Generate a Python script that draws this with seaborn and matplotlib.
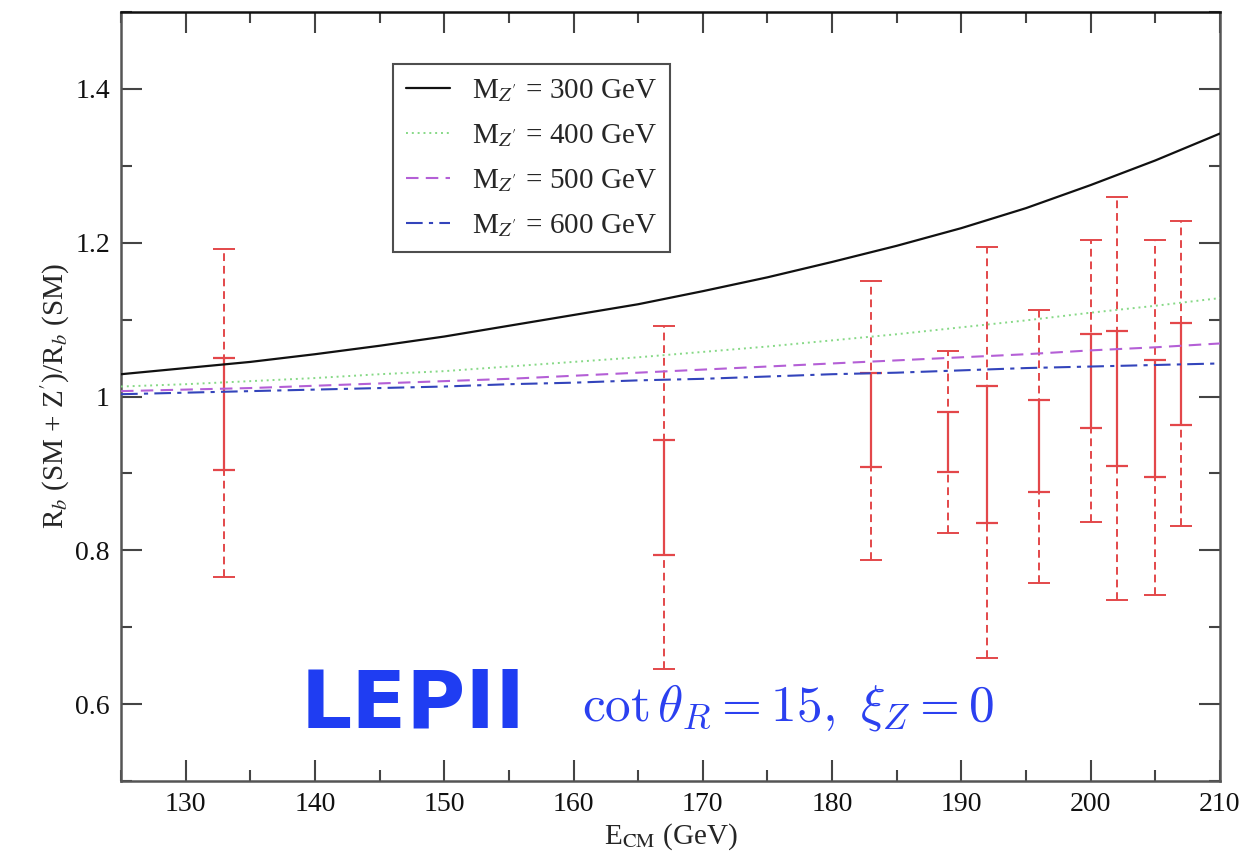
import numpy as np
import pandas as pd
import matplotlib
matplotlib.use("Agg")
import matplotlib.pyplot as plt
from matplotlib.ticker import MultipleLocator, FixedLocator
import seaborn as sns

# ---- data ----
energy = [125, 130, 135, 140, 145, 150, 155, 160, 165, 170, 175, 180, 185, 190, 195, 200, 205, 210]
r_m300 = [1.029, 1.037, 1.045, 1.055, 1.066, 1.078, 1.092, 1.106, 1.120, 1.137, 1.155, 1.175,
          1.196, 1.219, 1.245, 1.275, 1.307, 1.342]
r_m400 = [1.013, 1.016, 1.020, 1.024, 1.029, 1.033, 1.039, 1.045, 1.051, 1.058, 1.065, 1.073,
          1.081, 1.090, 1.099, 1.109, 1.118, 1.128]
r_m500 = [1.007, 1.009, 1.011, 1.014, 1.017, 1.020, 1.023, 1.027, 1.031, 1.035, 1.039, 1.043,
          1.047, 1.051, 1.055, 1.060, 1.064, 1.069]
r_m600 = [1.003, 1.005, 1.007, 1.009, 1.011, 1.013, 1.016, 1.018, 1.021, 1.023, 1.026, 1.029,
          1.031, 1.034, 1.037, 1.039, 1.041, 1.043]
series_labels = [r"M$_{Z'}$ = 300 GeV", r"M$_{Z'}$ = 400 GeV",
                 r"M$_{Z'}$ = 500 GeV", r"M$_{Z'}$ = 600 GeV"]

bar_energy = [133, 167, 183, 189, 192, 196, 200, 202, 205, 207]
inner_low = [0.905, 0.794, 0.908, 0.902, 0.836, 0.876, 0.959, 0.910, 0.895, 0.963]
inner_high = [1.050, 0.943, 1.030, 0.980, 1.014, 0.995, 1.081, 1.085, 1.048, 1.096]
outer_low = [0.765, 0.646, 0.788, 0.822, 0.660, 0.757, 0.837, 0.736, 0.742, 0.831]
outer_high = [1.192, 1.092, 1.150, 1.059, 1.194, 1.112, 1.203, 1.260, 1.203, 1.228]

x_ticks = [130, 140, 150, 160, 170, 180, 190, 200, 210]
y_ticks = [0.6, 0.8, 1.0, 1.2, 1.4]
y_ticklabels = ["0.6", "0.8", "1", "1.2", "1.4"]

# ---- style ----
sns.set_theme(style="ticks")
plt.rcParams["font.family"] = ["Liberation Serif", "DejaVu Serif"]
plt.rcParams["mathtext.fontset"] = "stix"

fig = plt.figure(figsize=(12.45, 8.59), dpi=100)
ax = fig.add_axes([0.0972, 0.0908, 0.8827, 0.8952])

red = "#e3474a"
# error bars: outer (dashed) then inner (solid)
outer_c = [(l + h) / 2 for l, h in zip(outer_low, outer_high)]
inner_c = [(l + h) / 2 for l, h in zip(inner_low, inner_high)]
eb_o = ax.errorbar(bar_energy, outer_c,
                   yerr=[[c - l for c, l in zip(outer_c, outer_low)],
                         [h - c for c, h in zip(outer_c, outer_high)]],
                   fmt="none", ecolor=red, elinewidth=1.4, capsize=8, capthick=1.4, zorder=2)
eb_o[2][0].set_linestyle((0, (4, 2.5)))
ax.errorbar(bar_energy, inner_c,
            yerr=[[c - l for c, l in zip(inner_c, inner_low)],
                  [h - c for c, h in zip(inner_c, inner_high)]],
            fmt="none", ecolor=red, elinewidth=1.6, capsize=8, capthick=1.6, zorder=3)

series = [r_m300, r_m400, r_m500, r_m600]
colors = ["#111111", "#86d986", "#b45fd6", "#3344bb"]
styles = ["-", (0, (1, 2)), (0, (6, 3.5)), (0, (8, 3, 2, 3))]
widths = [1.6, 1.4, 1.5, 1.5]
for vals, lab, c, ls, lw in zip(series, series_labels, colors, styles, widths):
    sns.lineplot(x=energy, y=vals, ax=ax, color=c, linestyle=ls, linewidth=lw, label=lab, zorder=4)

ax.set_xlim(125, 210)
ax.set_ylim(0.5, 1.5)
ax.xaxis.set_major_locator(FixedLocator(x_ticks))
ax.xaxis.set_minor_locator(MultipleLocator(5))
ax.yaxis.set_major_locator(FixedLocator(y_ticks))
ax.set_yticklabels(y_ticklabels)
ax.yaxis.set_minor_locator(MultipleLocator(0.1))
ax.tick_params(which="both", direction="in", top=True, right=True, colors="#444444",
               labelcolor="#111111", labelsize=20)
ax.tick_params(which="major", length=15, width=1.5, pad=8)
ax.tick_params(which="minor", length=8, width=1.5)
for s in ax.spines.values():
    s.set_color("#555555")
    s.set_linewidth(1.8)
ax.spines["top"].set_color("#111111")

ax.set_xlabel(r"E$_{\mathrm{CM}}$ (GeV)", fontsize=21, labelpad=3)
ax.set_ylabel(r"R$_b$ (SM + Z$^{\prime}$)/R$_b$ (SM)", fontsize=21, labelpad=2)

leg = ax.legend(loc="upper left", bbox_to_anchor=(0.2475, 0.932), borderaxespad=0,
                fontsize=21, frameon=True, fancybox=False, edgecolor="#222222",
                handlelength=1.5, handletextpad=0.75, labelspacing=0.62, borderpad=0.45)
leg.get_frame().set_linewidth(1.5)

ax.text(0.163, 0.070, "LEPII", transform=ax.transAxes, fontsize=58, fontweight="bold",
        color="#1f3df2", family="DejaVu Sans", va="baseline", ha="left")
ax.text(0.4195, 0.079, r"$\cot\theta_R = 15,\ \xi_Z = 0$", transform=ax.transAxes,
        fontsize=37, color="#2b40f0", va="baseline", ha="left", math_fontfamily="cm")

fig.savefig("out.png", dpi=100)
